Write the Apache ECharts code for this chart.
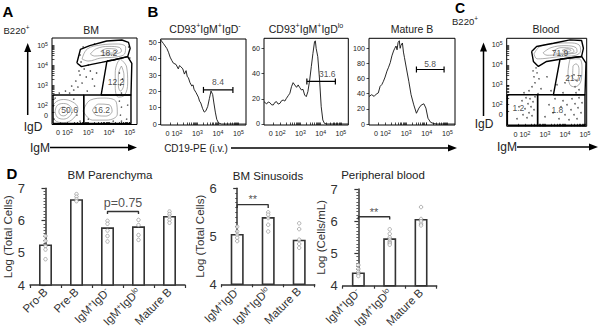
<!DOCTYPE html>
<html>
<head>
<meta charset="utf-8">
<script src="https://cdn.jsdelivr.net/npm/echarts@6/dist/echarts.min.js"></script>
<style>
  html, body { margin: 0; padding: 0; background: #fff; }
  #chart { width: 603px; height: 333px; }
</style>
</head>
<body>
<div id="chart"></div>
<script>
const FONT = "'Liberation Sans', Arial, sans-serif";

// flow axes are drawn in decades of the biexponential display
const flowTickMajor = [1.66, 2, 3, 4, 5];
const flowXLabelPos = [1.85, 3, 4, 5];
const flowXLabels = ['0 10{s|2}', '10{s|3}', '10{s|4}', '10{s|5}'];
const flowYLabelPos = [1.5, 2, 3, 4, 5];
const flowYLabels = ['0', '10{s|2}', '10{s|3}', '10{s|4}', '10{s|5}'];

// ---- A: BM, B220+ cells, IgM (x) vs IgD (y)
const bmGateTop = [[2.45, 4.1], [2.62, 4.78], [3.07, 4.97], [3.89, 5.2], [4.62, 5.25], [4.94, 5.13], [5.02, 4.83], [4.9, 4.42], [4.21, 4.25], [3.64, 4.13], [3.16, 4.03], [2.67, 3.92], [2.45, 4.1]];
const bmGateMid = [[3.9, 4.2], [3.62, 2.5], [5.06, 2.5], [5.1, 4.08], [4.9, 4.42], [4.21, 4.25], [3.9, 4.2]];
const bmGateLeft = [[1.3, 1.08], [1.3, 2.5], [2.78, 2.5], [2.78, 1.08], [1.3, 1.08]];
const bmGateRight = [[2.78, 1.08], [2.78, 2.5], [5.06, 2.5], [5.06, 1.08], [2.78, 1.08]];
const bmGateNames = ['18.2', '12.2', '50.6', '16.2'];
const bmGateLabelPos = [[4.0, 4.62], [4.34, 3.13], [2.1, 1.75], [3.65, 1.75]];
const bmContours = [
  [[1.22, 1.7], [1.38, 2.1], [1.8, 2.28], [2.25, 2.15], [2.5, 1.85], [2.3, 1.35], [1.8, 1.12], [1.38, 1.25], [1.22, 1.7]],
  [[1.4, 1.68], [1.5, 1.98], [1.8, 2.08], [2.1, 1.97], [2.22, 1.7], [2.08, 1.42], [1.8, 1.3], [1.5, 1.4], [1.4, 1.68]],
  [[1.58, 1.66], [1.63, 1.82], [1.8, 1.9], [1.97, 1.82], [2.02, 1.66], [1.95, 1.52], [1.8, 1.46], [1.64, 1.52], [1.58, 1.66]],
  [[2.7, 4.3], [2.95, 4.8], [3.6, 5.0], [4.4, 5.05], [4.8, 4.9], [4.75, 4.55], [4.3, 4.4], [3.6, 4.35], [3.0, 4.2], [2.7, 4.3]],
  [[3.1, 4.55], [3.4, 4.82], [4.0, 4.93], [4.5, 4.88], [4.6, 4.7], [4.3, 4.55], [3.8, 4.5], [3.3, 4.45], [3.1, 4.55]],
  [[3.6, 4.68], [3.9, 4.82], [4.3, 4.8], [4.42, 4.7], [4.2, 4.6], [3.85, 4.6], [3.6, 4.68]],
  [[4.55, 4.3], [4.85, 3.9], [4.9, 3.1], [4.75, 2.5], [4.45, 2.4], [4.3, 2.9], [4.3, 3.6], [4.4, 4.1], [4.55, 4.3]],
  [[4.6, 3.95], [4.72, 3.5], [4.7, 2.95], [4.55, 2.7], [4.45, 3.0], [4.45, 3.5], [4.6, 3.95]],
  [[2.75, 1.7], [3.1, 2.25], [3.8, 2.35], [4.35, 2.15], [4.4, 1.55], [3.9, 1.25], [3.2, 1.25], [2.75, 1.7]],
  [[3.2, 1.75], [3.5, 2.05], [4.0, 2.02], [4.15, 1.7], [3.85, 1.45], [3.4, 1.48], [3.2, 1.75]]
];
const bmDots = [[1.35, 1.3], [1.4, 2.35], [1.6, 2.6], [1.9, 2.7], [2.1, 2.6], [2.3, 2.75], [2.2, 2.95], [2.5, 2.9], [2.4, 3.2], [2.7, 3.1], [2.6, 3.5], [2.9, 3.4], [2.8, 3.8], [3.1, 3.7], [3.0, 4.0], [2.55, 3.7], [3.2, 3.3], [3.4, 3.6], [2.95, 2.7], [3.3, 2.95], [2.6, 4.5], [2.75, 4.9], [3.3, 5.05], [4.95, 4.9], [5.0, 4.35], [2.65, 4.15], [4.55, 1.5], [4.6, 1.9], [4.5, 2.2], [4.6, 2.6], [4.55, 3.0], [4.65, 3.3], [4.5, 3.6], [4.6, 1.2], [2.3, 2.3], [2.6, 1.2], [3.0, 1.3], [4.85, 1.3], [4.9, 2.0], [4.2, 1.2], [1.3, 1.95], [2.45, 1.5]];

// ---- B: CD19-PE (i.v.) histograms
const histTitles = ['CD93{s|+}IgM{s|+}IgD{s|-}', 'CD93{s|+}IgM{s|+}IgD{s|lo}', 'Mature B'];
const histIgDneg = [[1.2, 51.5], [1.33, 49.4], [1.5, 46.3], [1.58, 44], [1.66, 41], [1.74, 39], [1.82, 37.3], [1.95, 36.5], [2.06, 33.8], [2.12, 35.8], [2.18, 35.2], [2.28, 33.8], [2.36, 30.6], [2.44, 32.7], [2.5, 29], [2.55, 28.5], [2.63, 25.4], [2.72, 23.3], [2.78, 24], [2.83, 21.3], [2.93, 19.2], [3.04, 16.5], [3.1, 14], [3.16, 12.9], [3.25, 9.4], [3.33, 7.3], [3.41, 8.1], [3.5, 10.8], [3.58, 15.6], [3.66, 20.2], [3.74, 18.1], [3.8, 12.9], [3.87, 7.3], [3.94, 2.9], [4.03, 0.6], [4.18, 0], [5.37, 0]];
const histIgDlo = [[1.2, 17.7], [1.33, 15.9], [1.41, 17.5], [1.49, 16.9], [1.58, 15.2], [1.66, 15.1], [1.74, 17.2], [1.82, 17.7], [1.9, 15.8], [1.99, 16.4], [2.07, 18.5], [2.15, 19], [2.23, 18.2], [2.31, 20.4], [2.4, 22.5], [2.48, 24.4], [2.56, 29.6], [2.64, 32.8], [2.72, 31], [2.81, 29.1], [2.89, 31], [2.96, 29.1], [3.05, 27], [3.13, 27.5], [3.21, 23], [3.29, 21.7], [3.37, 25.6], [3.46, 34.9], [3.54, 45.5], [3.62, 56], [3.7, 65.3], [3.74, 66], [3.78, 60], [3.86, 53.4], [3.95, 34.9], [4.03, 13.7], [4.11, 3.2], [4.19, 0.5], [4.3, 0], [5.37, 0]];
const histMature = [[1.2, 36.4], [1.33, 38.7], [1.45, 36.5], [1.55, 39.5], [1.65, 41], [1.74, 49.8], [1.82, 52], [1.9, 56.4], [1.98, 62], [2.07, 69.8], [2.15, 75], [2.23, 81], [2.31, 90], [2.39, 96.4], [2.45, 100], [2.51, 103], [2.56, 98], [2.61, 107.6], [2.67, 110], [2.71, 100], [2.75, 104], [2.82, 107], [2.87, 95], [2.92, 87.6], [3.01, 74], [3.13, 56.4], [3.24, 38.7], [3.37, 25.3], [3.5, 14.2], [3.62, 21], [3.73, 25], [3.86, 26.7], [3.96, 21], [4.06, 7.6], [4.19, 2.2], [4.35, 0.5], [4.5, 0], [5.37, 0]];
const histYTicks = [[0, 10, 20, 30, 40, 50], [0, 20, 40, 60], [0, 20, 40, 60, 80, 100]];
const histYTickLabels = [['0', '10', '20', '30', '40', '50'], ['0', '20', '40', '60'], ['0', '20', '40', '60', '80', '100']];
const histYRange = [[-0.6, 52.1], [-0.8, 68], [-1.3, 113.2]];
const histGateBars = [[3.29, 4.73, 20.9], [3.32, 4.73, 33.8], [3.5, 4.84, 72]];
const histGateNames = ['8.4', '31.6', '5.8'];
const histGateLabelPos = [[4.0, 25.5], [4.33, 39.5], [4.16, 79.6]];

// ---- C: Blood, B220+ cells, IgM (x) vs IgD (y)
const bloodGateTop = [[2.33, 4.67], [2.58, 4.92], [3.42, 5.08], [4.25, 5.25], [4.83, 5.22], [4.92, 4.83], [4.83, 4.42], [4.5, 4.38], [3.75, 4.28], [3.08, 4.17], [2.67, 3.92], [2.42, 4.17], [2.33, 4.67]];
const bloodGateMid = [[3.75, 4.28], [3.42, 2.5], [5.0, 2.5], [5.05, 4.08], [4.83, 4.42], [4.5, 4.38], [3.75, 4.28]];
const bloodGateLeft = [[1.12, 0.97], [1.12, 2.5], [2.63, 2.5], [2.63, 0.97], [1.12, 0.97]];
const bloodGateRight = [[2.63, 0.97], [2.63, 2.5], [5.0, 2.5], [5.0, 0.97], [2.63, 0.97]];
const bloodGateNames = ['71.9', '21.7', '1.2', '1.8'];
const bloodGateLabelPos = [[3.75, 4.58], [4.42, 3.33], [1.67, 1.83], [3.62, 1.72]];
const bloodContours = [
  [[2.45, 4.55], [2.75, 4.92], [3.4, 5.06], [4.2, 5.1], [4.7, 5.0], [4.78, 4.7], [4.5, 4.47], [3.8, 4.42], [3.0, 4.32], [2.6, 4.3], [2.45, 4.55]],
  [[2.9, 4.6], [3.3, 4.86], [4.0, 4.96], [4.55, 4.86], [4.6, 4.65], [4.2, 4.55], [3.6, 4.5], [3.1, 4.48], [2.9, 4.6]],
  [[3.4, 4.68], [3.8, 4.86], [4.35, 4.82], [4.45, 4.67], [4.05, 4.58], [3.6, 4.58], [3.4, 4.68]],
  [[3.85, 4.72], [4.1, 4.8], [4.3, 4.73], [4.1, 4.65], [3.85, 4.72]],
  [[4.25, 4.3], [4.15, 3.6], [4.25, 3.0], [4.5, 2.9], [4.8, 3.2], [4.85, 3.9], [4.7, 4.3], [4.25, 4.3]],
  [[4.4, 3.95], [4.38, 3.35], [4.6, 3.25], [4.7, 3.8], [4.55, 4.05], [4.4, 3.95]]
];
const bloodDots = [[1.6, 1.3], [1.7, 1.9], [1.85, 2.2], [1.9, 1.5], [2.0, 1.8], [2.05, 2.35], [2.1, 1.35], [2.15, 2.05], [2.2, 1.6], [2.25, 2.3], [2.3, 1.9], [2.35, 1.45], [2.4, 2.15], [2.45, 1.75], [2.5, 2.4], [1.95, 2.6], [2.2, 2.7], [2.35, 2.9], [2.5, 3.1], [2.45, 3.4], [2.6, 3.6], [2.7, 3.3], [2.8, 2.8], [2.65, 2.55], [2.55, 3.85], [2.4, 3.7], [3.0, 1.4], [3.2, 2.0], [3.4, 1.6], [3.5, 2.3], [3.7, 1.3], [3.8, 1.9], [3.9, 2.2], [4.0, 1.5], [4.1, 2.0], [4.2, 1.25], [4.3, 1.75], [4.35, 2.3], [4.45, 1.5], [4.5, 2.05], [4.6, 1.3], [4.65, 1.85], [4.7, 2.35], [4.8, 1.6], [4.85, 2.1], [4.55, 2.6], [4.5, 2.9], [4.6, 3.2], [4.45, 3.5], [4.7, 2.75], [3.3, 2.7], [3.6, 3.0], [3.1, 3.4], [4.0, 3.1], [3.9, 2.6]];

// ---- D: cell numbers
const parCats = ['Pro-B', 'Pre-B', 'IgM{p|+}IgD{p|-}', 'IgM{p|+}IgD{p|lo}', 'Mature B'];
const parMeans = [5.26, 6.66, 5.79, 5.82, 6.14];
const parDots = [[5.52, 5.37, 5.21, 5.1, 4.8], [6.82, 6.74, 6.66, 6.6], [5.99, 5.9, 5.69, 5.52, 5.35], [6.02, 5.86, 5.55, 5.4], [6.28, 6.2, 6.12, 6.02, 5.93]];
const sinCats = ['IgM{p|+}IgD{p|-}', 'IgM{p|+}IgD{p|lo}', 'Mature B'];
const sinMeans = [5.05, 5.4, 4.93];
const sinDots = [[5.2, 5.1, 5.03, 4.97, 4.9], [5.5, 5.45, 5.38, 5.24, 5.1], [5.27, 5.15, 4.93, 4.84, 4.76]];
const pbCats = ['IgM{p|+}IgD{p|-}', 'IgM{p|+}IgD{p|lo}', 'Mature B'];
const pbMeans = [4.41, 5.47, 6.07];
const pbDots = [[4.64, 4.52, 4.43, 4.36, 4.3], [5.75, 5.61, 5.5, 5.43, 5.36, 5.32, 5.27], [6.44, 6.07, 6.0, 5.92, 5.87]];
// brackets: [from, to, height, tick bottom]
const parBracket = [2, 3, 6.28, 6.2];
const sinBracket = [0, 1, 5.66, 5.59];
const pbBracket = [0, 1, 6.14, 6.05];
const bracketText = ['p=0.75', '**', '**'];
const bracketTextY = [6.54, 5.78, 6.28];

const flowTicks = flowTickMajor.slice();
[2, 3, 4].forEach(function (d) {
  for (let k = 2; k <= 9; k++) flowTicks.push(d + Math.log10(k));
});

function nearest(arr, v) {
  let best = 0;
  arr.forEach(function (a, i) { if (Math.abs(a - v) < Math.abs(arr[best] - v)) best = i; });
  return best;
}

const supRich = { s: { fontSize: 5.2, fontFamily: FONT, color: '#222', padding: [0, 0, 3, 0] } };

// boxed axis with hand-picked tick and label positions (flow plots and histograms)
function boxAxis(grid, min, max, ticks, pos, texts) {
  return {
    type: 'value', gridIndex: grid, min: min, max: max,
    axisLine: { show: false, onZero: false },
    splitLine: { show: false },
    axisTick: { show: true, inside: true, length: 2.5, customValues: ticks, lineStyle: { color: '#000', width: 0.7 } },
    axisLabel: {
      customValues: pos, margin: 4, fontSize: 7.2, fontFamily: FONT, color: '#222', rich: supRich,
      hideOverlap: false,
      formatter: function (v) { return texts[nearest(pos, v)]; }
    }
  };
}

function flowAxis(grid, min, max, pos, texts) {
  return boxAxis(grid, min, max, flowTicks, pos, texts);
}

// value axis that only carries the histogram's data, labels come from the overlay axis
function histDataAxis(grid, i) {
  return {
    type: 'value', gridIndex: grid, min: histYRange[i][0], max: histYRange[i][1],
    axisLine: { show: false, onZero: false }, splitLine: { show: false },
    axisTick: { show: false }, axisLabel: { show: false }
  };
}

// overlay axis with the count ticks, on a bare grid of the same size
function histCountAxis(grid, i) {
  const ax = boxAxis(grid, histYRange[i][0], histYRange[i][1], histYTicks[i], histYTicks[i], histYTickLabels[i]);
  ax.axisTick.inside = false;
  ax.position = 'left';
  return ax;
}

const catRich = { p: { fontSize: 7.5, fontFamily: FONT, color: '#333', padding: [0, 0, 5, 0] } };

function catAxis(grid, cats) {
  return {
    type: 'category', gridIndex: grid, data: cats,
    axisLine: { lineStyle: { color: '#333', width: 1.5 } },
    axisTick: { show: true, length: 3, lineStyle: { color: '#333', width: 1.2 } },
    axisLabel: { rotate: 45, margin: 5, fontSize: 11.5, fontFamily: FONT, color: '#333', rich: catRich, interval: 0 }
  };
}

function hiddenAxis(grid, n) {
  return { type: 'value', gridIndex: grid, min: -0.5, max: n - 0.5, show: false };
}

function countAxis(grid, max, name, gap) {
  return {
    type: 'value', gridIndex: grid, min: 4, max: max, interval: 1,
    axisLine: { show: true, lineStyle: { color: '#333', width: 1.5 } },
    axisTick: { show: true, length: 4, lineStyle: { color: '#333', width: 1.2 } },
    minorTick: { show: true, splitNumber: 10, length: 2, lineStyle: { color: '#333', width: 0.8 } },
    splitLine: { show: false },
    axisLabel: { fontSize: 13, fontFamily: FONT, color: '#333', margin: 5 },
    name: name, nameLocation: 'middle', nameGap: gap,
    nameTextStyle: { fontSize: 11.5, fontFamily: FONT, color: '#333' }
  };
}

function path(xi, yi, pts, color, width, smooth, z) {
  return {
    type: 'line', xAxisIndex: xi, yAxisIndex: yi, data: pts, symbol: 'none', smooth: smooth || false,
    itemStyle: { color: color }, lineStyle: { color: color, width: width }, z: z || 2, silent: true
  };
}

function dotSeries(ax, pts) {
  return {
    type: 'scatter', xAxisIndex: ax, yAxisIndex: ax, data: pts, symbol: 'circle', symbolSize: 1.6,
    itemStyle: { color: '#333' }, z: 1, silent: true
  };
}

function textSeries(xi, yi, names, pos, size) {
  return {
    type: 'scatter', xAxisIndex: xi, yAxisIndex: yi, symbolSize: 2, z: 6, silent: true,
    itemStyle: { color: 'rgba(0,0,0,0)' },
    data: names.map(function (n, i) { return { name: n, value: pos[i] }; }),
    label: { show: true, position: 'inside', formatter: '{b}', fontSize: size, fontFamily: FONT, color: '#222' }
  };
}

const series = [];

// A
[bmGateTop, bmGateMid, bmGateLeft, bmGateRight].forEach(function (g) { series.push(path(0, 0, g, '#000', 1.4, false, 5)); });
bmContours.forEach(function (c) { series.push(path(0, 0, c, '#777', 0.6, 0.4, 3)); });
series.push(dotSeries(0, bmDots));
series.push(textSeries(0, 0, bmGateNames, bmGateLabelPos, 8.5));

// B
[histIgDneg, histIgDlo, histMature].forEach(function (h, i) {
  const ax = i + 1;
  series.push(path(ax, ax, h, '#111', 0.9, false, 3));
  const g = histGateBars[i];
  series.push({
    type: 'line', xAxisIndex: ax, yAxisIndex: ax, data: [[g[0], g[2]], [g[1], g[2]]],
    symbol: 'rect', symbolSize: [1.2, 6], showSymbol: true, silent: true,
    itemStyle: { color: '#000' }, lineStyle: { color: '#000', width: 1.2 }, z: 4
  });
  series.push(textSeries(ax, ax, [histGateNames[i]], [histGateLabelPos[i]], 8.5));
});

// C
[bloodGateTop, bloodGateMid, bloodGateLeft, bloodGateRight].forEach(function (g) { series.push(path(4, 4, g, '#000', 1.4, false, 5)); });
bloodContours.forEach(function (c) { series.push(path(4, 4, c, '#777', 0.6, 0.4, 3)); });
series.push(dotSeries(4, bloodDots));
series.push(textSeries(4, 4, bloodGateNames, bloodGateLabelPos, 8.5));

// D
[[parMeans, parDots, parBracket], [sinMeans, sinDots, sinBracket], [pbMeans, pbDots, pbBracket]].forEach(function (d, i) {
  const cx = 5 + i, vx = 8 + i, yy = 5 + i;
  series.push({
    type: 'bar', xAxisIndex: cx, yAxisIndex: yy, data: d[0], barWidth: 13, silent: true,
    itemStyle: { color: '#fff', borderColor: '#333', borderWidth: 1.6 }
  });
  const pts = [];
  d[1].forEach(function (vals, k) { vals.forEach(function (v) { pts.push([k, v]); }); });
  series.push({
    type: 'scatter', xAxisIndex: cx, yAxisIndex: yy, data: pts, symbol: 'circle', symbolSize: 3.5, z: 4, silent: true,
    itemStyle: { color: '#fff', borderColor: '#888', borderWidth: 0.8 }
  });
  const b = d[2];
  series.push(path(vx, yy, [[b[0], b[3]], [b[0], b[2]], [b[1], b[2]], [b[1], b[3]]], '#333', 1.4, false, 4));
  series.push(textSeries(vx, yy, [bracketText[i]], [[(b[0] + b[1]) / 2, bracketTextY[i]]], i === 0 ? 12.5 : 11));
});

function gridBox(left, top, width, height, box) {
  return { left: left, top: top, width: width, height: height, show: box, borderColor: '#000', borderWidth: box ? 1 : 0 };
}

function txt(x, y, text, size, extra) {
  return {
    type: 'text', x: x, y: y, z: 10, silent: true,
    style: Object.assign({
      text: text, fontSize: size, fontFamily: FONT, fill: '#222', align: 'center', verticalAlign: 'middle',
      rich: { s: { fontSize: size * 0.68, fontFamily: FONT, fill: '#222', padding: [0, 0, size * 0.5, 0] } }
    }, extra || {})
  };
}

function arrowUp(x, yBottom, yTip) {
  return [
    { type: 'line', shape: { x1: x, y1: yBottom, x2: x, y2: yTip + 6 }, style: { stroke: '#000', lineWidth: 1.5 }, silent: true },
    { type: 'polygon', shape: { points: [[x, yTip], [x - 3.5, yTip + 9], [x + 3.5, yTip + 9]] }, style: { fill: '#000' }, silent: true }
  ];
}

function arrowRight(xStart, xTip, y) {
  return [
    { type: 'line', shape: { x1: xStart, y1: y, x2: xTip - 6, y2: y }, style: { stroke: '#000', lineWidth: 1.5 }, silent: true },
    { type: 'polygon', shape: { points: [[xTip, y], [xTip - 9, y - 3.5], [xTip - 9, y + 3.5]] }, style: { fill: '#000' }, silent: true }
  ];
}

const graphics = [
  txt(8, 11, 'A', 15, { fontWeight: 'bold', fill: '#000' }),
  txt(153, 11, 'B', 15, { fontWeight: 'bold', fill: '#000' }),
  txt(460, 8, 'C', 14, { fontWeight: 'bold', fill: '#000' }),
  txt(12, 173, 'D', 15, { fontWeight: 'bold', fill: '#000' }),
  txt(16.5, 30, 'B220{s|+}', 9.5),
  txt(91, 29.5, 'BM', 10.5),
  txt(33, 127, 'IgD', 12),
  txt(40, 147.5, 'IgM', 12),
  txt(205, 29, histTitles[0], 10.5),
  txt(306, 29, histTitles[1], 10.5),
  txt(412, 29, histTitles[2], 10.5),
  txt(196, 148, 'CD19-PE (i.v.)', 10),
  txt(465, 21, 'B220{s|+}', 9.5),
  txt(546, 29, 'Blood', 10.5),
  txt(484, 124, 'IgD', 12),
  txt(507, 147, 'IgM', 12),
  txt(110, 175, 'BM Parenchyma', 11.5),
  txt(268, 176, 'BM Sinusoids', 11.5),
  txt(383, 175, 'Peripheral blood', 11.5)
].concat(arrowUp(27.7, 115, 43), arrowRight(50, 137, 147.5), arrowRight(231, 457, 148),
  arrowUp(483.5, 116, 42.5), arrowRight(517, 598, 147));

const histBoxes = [[160.7, 39, 85.3, 86], [264, 38.3, 84.3, 86.7], [369, 38.3, 86, 86.7]];

const chart = echarts.init(document.getElementById('chart'), null, { renderer: 'svg' });
chart.setOption({
  animation: false,
  backgroundColor: '#fff',
  textStyle: { fontFamily: FONT },
  grid: [
    gridBox(52, 38, 85, 86.5, true),
    gridBox(histBoxes[0][0], histBoxes[0][1], histBoxes[0][2], histBoxes[0][3], true),
    gridBox(histBoxes[1][0], histBoxes[1][1], histBoxes[1][2], histBoxes[1][3], true),
    gridBox(histBoxes[2][0], histBoxes[2][1], histBoxes[2][2], histBoxes[2][3], true),
    gridBox(506.7, 38.3, 80, 88, true),
    gridBox(30, 188.3, 155, 96.7, false),
    gridBox(221.7, 188.3, 93, 96, false),
    gridBox(342.7, 189, 94, 96.7, false),
    gridBox(histBoxes[0][0], histBoxes[0][1], histBoxes[0][2], histBoxes[0][3], false),
    gridBox(histBoxes[1][0], histBoxes[1][1], histBoxes[1][2], histBoxes[1][3], false),
    gridBox(histBoxes[2][0], histBoxes[2][1], histBoxes[2][2], histBoxes[2][3], false)
  ],
  xAxis: [
    flowAxis(0, 1.25, 5.35, flowXLabelPos, flowXLabels),
    flowAxis(1, 1.2, 5.37, flowXLabelPos, flowXLabels),
    flowAxis(2, 1.2, 5.37, flowXLabelPos, flowXLabels),
    flowAxis(3, 1.2, 5.37, flowXLabelPos, flowXLabels),
    flowAxis(4, 1.085, 5.085, flowXLabelPos, flowXLabels),
    catAxis(5, parCats),
    catAxis(6, sinCats),
    catAxis(7, pbCats),
    hiddenAxis(5, parCats.length),
    hiddenAxis(6, sinCats.length),
    hiddenAxis(7, pbCats.length),
    { type: 'category', gridIndex: 8, data: [''], show: false },
    { type: 'category', gridIndex: 9, data: [''], show: false },
    { type: 'category', gridIndex: 10, data: [''], show: false }
  ],
  yAxis: [
    flowAxis(0, 1.03, 5.35, flowYLabelPos, flowYLabels),
    histDataAxis(1, 0),
    histDataAxis(2, 1),
    histDataAxis(3, 2),
    flowAxis(4, 0.92, 5.33, flowYLabelPos, flowYLabels),
    countAxis(5, 7, 'Log (Total Cells)', 12),
    countAxis(6, 6, 'Log (Total Cells)', 13),
    countAxis(7, 7, 'Log (Cells/mL)', 13),
    histCountAxis(8, 0),
    histCountAxis(9, 1),
    histCountAxis(10, 2)
  ],
  series: series,
  graphic: graphics
});
</script>
</body>
</html>
